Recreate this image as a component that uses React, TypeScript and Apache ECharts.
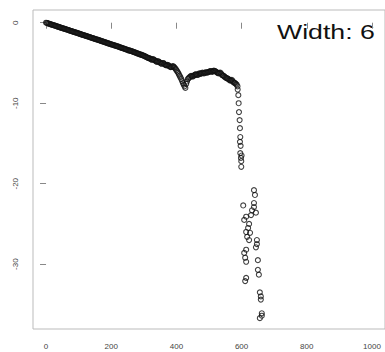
import React, { useEffect, useRef } from "react";
import * as echarts from "echarts";

// Dense leading part: one reading every 2.5 index units, starting at 0
const headStep = 2.5;
const headY = [
  0, -0.03, -0.06, -0.1, -0.13, -0.17, -0.2, -0.23, -0.27, -0.3,
  -0.33, -0.37, -0.4, -0.43, -0.47, -0.5, -0.53, -0.57, -0.6, -0.63,
  -0.67, -0.7, -0.73, -0.77, -0.8, -0.83, -0.87, -0.9, -0.93, -0.97,
  -1.0, -1.03, -1.07, -1.1, -1.13, -1.17, -1.2, -1.23, -1.27, -1.3,
  -1.33, -1.37, -1.4, -1.44, -1.47, -1.5, -1.53, -1.57, -1.6, -1.63,
  -1.67, -1.7, -1.74, -1.77, -1.8, -1.84, -1.87, -1.9, -1.94, -1.97,
  -2.0, -2.04, -2.08, -2.1, -2.14, -2.17, -2.2, -2.24, -2.28, -2.3,
  -2.34, -2.38, -2.42, -2.45, -2.48, -2.52, -2.55, -2.58, -2.62, -2.65,
  -2.68, -2.71, -2.75, -2.78, -2.82, -2.85, -2.88, -2.92, -2.95, -2.98,
  -3.02, -3.06, -3.1, -3.12, -3.16, -3.2, -3.23, -3.27, -3.3, -3.33,
  -3.37, -3.42, -3.45, -3.47, -3.5, -3.54, -3.57, -3.62, -3.66, -3.68,
  -3.72, -3.77, -3.8, -3.83, -3.87, -3.92, -3.95, -3.98, -4.02, -4.07,
  -4.1, -4.16, -4.2, -4.25, -4.3, -4.36, -4.4, -4.42, -4.46, -4.55,
  -4.6, -4.52, -4.56, -4.64, -4.72, -4.8, -4.86, -4.78, -4.82, -4.9,
  -4.97, -5.06, -5.1, -5.02, -5.0, -5.12, -5.2, -5.27, -5.3, -5.24,
  -5.26, -5.38, -5.46, -5.52, -5.5, -5.42, -5.4, -5.5, -5.6, -5.74,
  -5.9, -6.05, -6.2, -6.4, -6.6, -6.8, -7.0, -7.25, -7.5, -7.7,
  -7.9, -8.1, -7.6, -7.3, -7.0, -6.9, -6.8, -6.7, -6.6, -6.62,
  -6.7, -6.6, -6.5, -6.45, -6.4, -6.46, -6.5, -6.4, -6.3, -6.32,
  -6.35, -6.26, -6.2, -6.26, -6.3, -6.22, -6.15, -6.18, -6.2, -6.14,
  -6.1, -6.05, -6.0, -6.06, -6.1, -6.02, -5.95, -6.0, -6.05, -6.12,
  -6.2, -6.26, -6.3, -6.24, -6.2, -6.35, -6.5, -6.55, -6.6, -6.7,
  -6.8, -6.85, -6.9, -6.95, -7.0, -7.1, -7.2, -7.15, -7.1, -7.25,
  -7.4, -7.45, -7.5, -7.6, -7.7, -7.9,
];

// Scattered tail after the break
const tailX = [
  588, 590, 591, 592, 594, 595, 596, 595, 597, 596, 598, 599, 600, 599,
  638, 641, 605, 638, 638, 632, 644, 629, 614, 608, 623, 620, 614, 626, 617, 623,
  647, 647, 644, 614, 608, 611, 614, 650, 650, 653, 614, 611, 656, 659, 659, 662, 662, 656,
];
const tailY = [
  -8.3, -9.0, -10.0, -11.1, -12.1, -13.1, -14.2, -14.8, -15.3, -16.2, -16.8, -17.2, -16.5, -17.9,
  -20.8, -21.4, -22.7, -22.4, -22.9, -23.3, -23.6, -23.9, -24.1, -24.5, -25.0, -25.5, -26.0, -26.1, -26.6, -27.0,
  -27.0, -27.5, -27.9, -28.2, -28.6, -29.2, -29.7, -29.5, -30.7, -31.3, -31.7, -32.1, -33.5, -34.0, -34.4, -36.1, -36.4, -36.7,
];

const xTicks = [0, 200, 400, 600, 800, 1000];
const yTicks = [0, -10, -20, -30];
const titleText = "Width: 6";

export default function App() {
  const ref = useRef<HTMLDivElement>(null);
  useEffect(() => {
    if (!ref.current) return;
    const chart = echarts.init(ref.current, null, { renderer: "svg" });
    const data: number[][] = [];
    headY.forEach((y, i) => data.push([i * headStep, y]));
    tailX.forEach((x, i) => data.push([x, tailY[i]]));
    const labelStyle = {
      color: "#444",
      fontSize: 8,
      fontFamily: "Liberation Sans, Arial, sans-serif",
    };
    chart.setOption({
      animation: false,
      backgroundColor: "#fff",
      grid: {
        left: 33,
        top: 10,
        width: 359,
        height: 319,
        show: true,
        borderColor: "#bbb",
        borderWidth: 1,
        backgroundColor: "transparent",
      },
      xAxis: {
        type: "value",
        min: -40,
        max: 1040,
        axisLine: { show: false },
        splitLine: { show: false },
        axisTick: {
          show: true,
          customValues: xTicks,
          length: 6,
          lineStyle: { color: "#888" },
        },
        axisLabel: {
          ...labelStyle,
          customValues: xTicks,
          margin: 13,
          formatter: (v: number) => String(v),
        },
      },
      yAxis: {
        type: "value",
        min: -38.05,
        max: 1.58,
        axisLine: { show: false },
        splitLine: { show: false },
        axisTick: {
          show: true,
          customValues: yTicks,
          length: 6,
          lineStyle: { color: "#888" },
        },
        axisLabel: {
          ...labelStyle,
          customValues: yTicks,
          rotate: 90,
          margin: 14,
          formatter: (v: number) => String(v),
        },
      },
      graphic: [
        {
          type: "text",
          x: 277,
          y: 21,
          scaleX: 1.27,
          scaleY: 1,
          style: {
            text: titleText,
            fontSize: 21,
            fontFamily: "Liberation Sans, Arial, sans-serif",
            fill: "#111",
          },
        },
      ],
      series: [
        {
          type: "scatter",
          data,
          symbol: "circle",
          symbolSize: 5,
          itemStyle: {
            color: "rgba(0,0,0,0)",
            borderColor: "#111",
            borderWidth: 1.1,
          },
        },
      ],
    });
    return () => chart.dispose();
  }, []);
  return (
    <div
      ref={ref}
      style={{ position: "fixed", left: 0, top: 0, width: 385, height: 352 }}
    />
  );
}
